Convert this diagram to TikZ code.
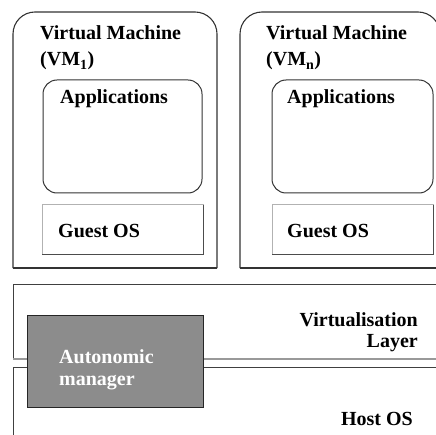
\documentclass[tikz,border=0pt]{standalone}
\usepackage{fontspec}
\setmainfont{Liberation Serif}
\usetikzlibrary{positioning}

\begin{document}
\begin{tikzpicture}[
    x=1pt, y=-1pt,
    vmbox/.style={draw=black!80, line width=1.1pt, rounded corners=22pt},
    appbox/.style={draw=black!80, line width=1pt, rounded corners=14pt},
    osbox/.style={draw=black!30, line width=1pt},
    osshade/.style={draw=black!70, line width=1pt},
    layerline/.style={draw=black!75, line width=1pt},
    mgrbox/.style={rectangle, draw=black!85, line width=1pt, fill=black!45, minimum width=176pt, minimum height=92pt},
    txt/.style={font=\fontsize{20}{22}\selectfont\bfseries, inner sep=0pt},
    lefttxt/.style={txt, anchor=base west},
    righttxt/.style={txt, anchor=base east}
]
    \useasboundingbox (0,0) rectangle (435,435);

    % Virtual machines
    \draw[vmbox] (13,268) -- (13,12) -- (217,12) -- (217,268);
    \draw[vmbox] (217,268) -- (13,268);
    \draw[vmbox] (240,268) -- (240,12) -- (440,12) -- (440,268);
    \draw[vmbox] (440,268) -- (240,268);

    \draw[appbox] (43,80) rectangle (202,193);
    \draw[appbox] (272,80) rectangle (433,193);
    \draw[osbox] (42,205) rectangle (203,254);
    \draw[osshade] (203,205) -- (203,254) -- (42,254);
    \draw[osbox] (272,205) rectangle (433,254);
    \draw[osshade] (433,205) -- (433,254) -- (272,254);

    \node[lefttxt] (vmone) at (40,40) {Virtual Machine};
    \node[lefttxt] (vmonesub) at (40,66) {(VM\textsubscript{1})};
    \node[lefttxt] (vmn) at (266,40) {Virtual Machine};
    \node[lefttxt] (vmnsub) at (266,66) {(VM\textsubscript{n})};
    \node[lefttxt] (appone) at (60,104) {Applications};
    \node[lefttxt] (appn) at (287,104) {Applications};
    \node[lefttxt] (osone) at (58,237) {Guest OS};
    \node[lefttxt] (osn) at (287,237) {Guest OS};

    % Virtualisation layer and host OS
    \draw[layerline] (436,284) -- (13,284) -- (13,359);
    \draw[draw=black!40, line width=2pt] (13,359) -- (436,359);
    \draw[layerline] (13,437) -- (13,367) -- (436,367);

    \node[righttxt] (virt) at (418,326) {Virtualisation};
    \node[righttxt] (layer) at (418,347) {Layer};
    \node[righttxt] (host) at (413,425) {Host OS};

    % Autonomic manager
    \node[mgrbox] (mgr) at (115,361) {};
    \node[lefttxt, text=white] (mgrone) at (59,363) {Autonomic};
    \node[lefttxt, text=white] (mgrtwo) at (59,385) {manager};
\end{tikzpicture}
\end{document}
